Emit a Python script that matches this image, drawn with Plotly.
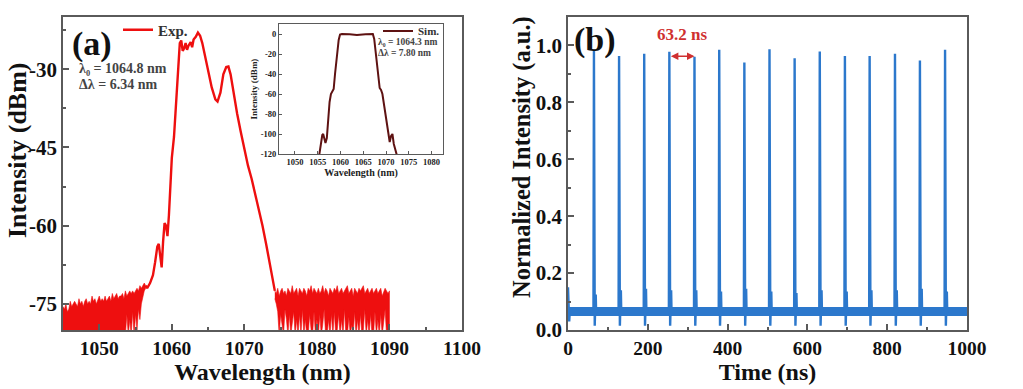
import plotly.graph_objects as go

# ---------------- DATA ----------------
# (a) experimental spectrum
# noise floor: upper (hi) and lower (lo) envelopes of the noise, sampled every 0.2 nm
exp_step = 0.2
exp_left_start = 1045.0
exp_left_hi = [-75.5, -76, -75, -76.5, -76, -74.5, -75.5, -75, -74.5, -75,
               -75.5, -74, -75, -74.5, -75.5, -74.5, -74, -75, -74.5, -75,
               -73.5, -74.5, -74, -75, -74, -73.5, -74.5, -74, -74.5, -73.5,
               -74.5, -74, -73.5, -74.5, -73, -74, -73.5, -73, -74, -73.5,
               -73.5, -73, -74, -72.5, -73.5, -73, -72.5, -73, -72.5, -73,
               -72.5, -72, -72.5, -71.5, -72, -71.5, -71, -71.5]
exp_left_lo = [-81] * 44 + [-77, -81, -78, -81, -76.5, -81, -77, -80, -76, -78, -75, -73.5, -72.5, -72]
exp_right_start = 1074.2
exp_right_hi = [-72.5, -73, -72, -73.5, -72.5, -72, -73, -72.5, -73.5, -72,
                -72.5, -73, -71.5, -73, -72.5, -72, -73.5, -72, -72.5, -73,
                -72, -72.5, -73.5, -72, -72.5, -71.5, -73, -72, -72.5, -73,
                -72, -73, -72.5, -71.5, -73, -72, -72.5, -73.5, -72, -72.5,
                -73, -72, -72.5, -71.5, -73, -72.5, -72, -73, -72.5, -72,
                -71.5, -73, -72.5, -72, -73.5, -72, -72.5, -73, -72, -72.5,
                -72, -71.5, -73, -72.5, -72, -73, -72.5, -72, -73, -72.5,
                -72, -73, -72.5, -72, -73.5, -72.5, -72, -72.5, -73, -72.5]
exp_right_lo = [-74, -75, -76.5, -81, -77, -79, -81, -76, -78, -81,
                -77, -81, -79, -76.5, -81, -78, -81, -77, -81, -76,
                -81, -78, -81, -81, -77, -80, -81, -76.5, -81, -78,
                -81, -77, -81, -79, -76, -81, -81, -78, -81, -77,
                -81, -76.5, -81, -80, -77, -81, -78, -81, -76, -81,
                -81, -77.5, -81, -79, -81, -76.5, -81, -78, -81, -77,
                -81, -80, -76, -81, -78, -81, -77, -81, -81, -76.5,
                -81, -78, -81, -77, -81, -79, -76, -81, -81, -81]
# main emission band
exp_band_wl = [1056.4, 1056.6, 1057.0, 1057.4, 1057.7, 1058.0, 1058.2, 1058.4, 1058.6, 1058.8, 1059.0,
               1059.2, 1059.4, 1059.6, 1059.8, 1060.0, 1060.3, 1060.6, 1060.9, 1061.1, 1061.3, 1061.5,
               1061.7, 1061.9, 1062.1, 1062.3, 1062.6, 1062.8, 1063.0, 1063.3, 1063.6, 1063.9, 1064.2,
               1064.6, 1065.0, 1065.5, 1066.0, 1066.3, 1066.7, 1067.1, 1067.5, 1067.8, 1068.1, 1068.5,
               1069.0, 1069.5, 1070.0, 1070.5, 1071.0, 1071.5, 1072.0, 1072.5, 1073.0, 1073.5, 1073.9,
               1074.2]
exp_band_db = [-71.5, -72, -71, -69.5, -67, -64, -63.5, -66, -68, -63, -59.5, -60, -62, -58, -53, -47,
               -43, -37, -29, -25, -24.5, -26.5, -26, -25, -26.3, -25.5, -24.8, -25.8, -24.3, -23.8,
               -23.0, -23.6, -25, -27.5, -30, -33.5, -35.8, -36.2, -34.5, -31, -29.6, -29.5, -31, -34.5,
               -38.5, -42, -45.5, -48.5, -51, -54, -56.5, -60, -63.5, -67.5, -70.5, -72.5]

# (a) inset: simulated spectrum
sim_wl = [1055.2, 1055.6, 1056.0, 1056.2, 1056.4, 1056.7, 1057.0, 1057.3, 1057.6, 1057.9, 1058.2,
          1058.5, 1058.8, 1059.2, 1059.6, 1059.9, 1060.3, 1062.0, 1063.6, 1065.5, 1067.1, 1067.4,
          1067.8, 1068.2, 1068.6, 1068.9, 1069.2, 1069.6, 1070.1, 1070.5, 1070.8, 1071.1, 1071.4,
          1071.7, 1072.1, 1072.6]
sim_db = [-125, -112, -101, -100, -103, -109, -104, -85, -68, -60, -57, -55, -40, -22, -6, -0.5, 0,
          -0.3, -1, -0.3, 0, -5, -20, -38, -54, -56, -60, -72, -88, -101, -108, -102, -100, -110,
          -118, -125]

# (b) pulse train
pulse_times = [65, 128, 191, 254, 317, 379, 442, 505, 568, 631, 694, 756, 819.5, 882, 945]
pulse_peaks = [0.985, 0.963, 0.971, 0.978, 0.960, 0.985, 0.940, 0.987, 0.955, 0.979, 0.963, 0.963,
               0.971, 0.947, 0.985]
pulse_bumps = [0.125, 0.14, 0.145, 0.14, 0.14, 0.135, 0.145, 0.135, 0.13, 0.14, 0.135, 0.14, 0.14,
               0.145, 0.135]
# shape of one pulse (time offset ns, level) ; 'P' = peak, 'B' = after-bump
pulse_shape = [(-1.2, 0.065), (0, 'P'), (1.0, 0.045), (2.0, 0.015), (3.0, 0.07), (4.5, 'B'),
               (5.5, 0.06), (7.0, 0.075), (8.5, 0.065)]
start_t = [0, 1.5, 3.0, 4.5]
start_v = [0.15, 0.065, 0.03, 0.065]
baseline_t = [0, 1000]
baseline_v = [0.065, 0.065]

# ---------------- BUILD ----------------
SERIF = "Liberation Serif"
RED = "#ee0f0f"
BLUE = "#2c78cc"

def noise_polygon(start, hi, lo):
    xs = [start + exp_step * i for i in range(len(hi))]
    return xs + xs[::-1], list(hi) + list(lo)[::-1]

lx, ly = noise_polygon(exp_left_start, exp_left_hi, exp_left_lo)
rx, ry = noise_polygon(exp_right_start, exp_right_hi, exp_right_lo)

pt_x, pt_y = list(start_t), list(start_v)
for t, p, b in zip(pulse_times, pulse_peaks, pulse_bumps):
    for dt, lv in pulse_shape:
        pt_x.append(t + dt)
        pt_y.append(p if lv == 'P' else (b if lv == 'B' else lv))
pt_x.append(1000); pt_y.append(0.065)

fig = go.Figure()
fig.add_trace(go.Scatter(x=exp_band_wl, y=exp_band_db, mode='lines', name='Exp.',
                         line=dict(color=RED, width=2.4), xaxis='x', yaxis='y', legend='legend'))
fig.add_trace(go.Scatter(x=lx, y=ly, mode='lines', fill='toself', fillcolor=RED, showlegend=False,
                         line=dict(color=RED, width=0.6), xaxis='x', yaxis='y'))
fig.add_trace(go.Scatter(x=rx, y=ry, mode='lines', fill='toself', fillcolor=RED, showlegend=False,
                         line=dict(color=RED, width=0.6), xaxis='x', yaxis='y'))
fig.add_trace(go.Scatter(x=sim_wl, y=sim_db, mode='lines', name='Sim.',
                         line=dict(color='#5e1212', width=2), xaxis='x3', yaxis='y3', legend='legend2'))
fig.add_trace(go.Scatter(x=baseline_t, y=baseline_v, mode='lines', showlegend=False,
                         line=dict(color=BLUE, width=9), xaxis='x2', yaxis='y2'))
fig.add_trace(go.Scatter(x=pt_x, y=pt_y, mode='lines', showlegend=False,
                         line=dict(color=BLUE, width=2.4), xaxis='x2', yaxis='y2'))

W, H = 1023, 389
def px(x): return x / W
def py(y): return 1 - y / H

AX = dict(showline=True, linecolor='#5a5a5a', linewidth=1.5, mirror=True, ticks='inside',
          ticklen=6, tickwidth=1.5, tickcolor='#5a5a5a', showgrid=False, zeroline=False,
          automargin=False,
          tickfont=dict(family=SERIF, size=19.5, color='#111', weight='bold'))
YTICK = dict(family=SERIF, size=21, color='#111', weight='bold')
TF = dict(family=SERIF, size=24, color='#111', weight='bold')
MINOR = dict(ticks='inside', ticklen=3, tickcolor='#5a5a5a')

fig.update_layout(
    width=W, height=H, margin=dict(l=0, r=0, t=0, b=0),
    paper_bgcolor='white', plot_bgcolor='white',
    xaxis=dict(AX, domain=[px(63), px(462)], range=[1045, 1100], anchor='y',
               tickvals=[1050, 1060, 1070, 1080, 1090, 1100],
               minor=dict(MINOR, tickvals=[1055, 1065, 1075, 1085, 1095]),
               title=dict(text='Wavelength (nm)', font=TF, standoff=3)),
    yaxis=dict(AX, domain=[py(330), py(17)], range=[-80, -20], anchor='x', tickfont=YTICK,
               tickvals=[-75, -60, -45, -30], ticktext=['-75', '-60', '-45', '-30'],
               minor=dict(MINOR, tickvals=[-67.5, -52.5, -37.5, -22.5])),
    xaxis2=dict(AX, domain=[px(568), px(967)], range=[0, 1000], anchor='y2',
                tickvals=[0, 200, 400, 600, 800, 1000],
                minor=dict(MINOR, tickvals=[100, 300, 500, 700, 900]),
                title=dict(text='Time (ns)', font=TF, standoff=3)),
    yaxis2=dict(AX, domain=[py(330), py(17)], range=[0, 1.1], anchor='x2', tickfont=YTICK,
                tickvals=[0, 0.2, 0.4, 0.6, 0.8, 1.0], ticktext=['0.0', '0.2', '0.4', '0.6', '0.8', '1.0'],
                minor=dict(MINOR, tickvals=[0.1, 0.3, 0.5, 0.7, 0.9])),
    xaxis3=dict(AX, domain=[px(279), px(443)], range=[1046.5, 1082.5], anchor='y3',
                linewidth=1, ticklen=3, tickwidth=1,
                tickvals=[1050, 1055, 1060, 1065, 1070, 1075, 1080],
                tickfont=dict(family=SERIF, size=8.5, color='#222', weight='bold'),
                title=dict(text='Wavelength (nm)', font=dict(family=SERIF, size=10, color='#222', weight='bold'), standoff=1)),
    yaxis3=dict(AX, domain=[py(154), py(24)], range=[-120, 10], anchor='x3',
                linewidth=1, ticklen=3, tickwidth=1,
                tickvals=[0, -20, -40, -60, -80, -100, -120],
                ticktext=['0', '-20', '-40', '-60', '-80', '-100', '-120'],
                tickfont=dict(family=SERIF, size=8.5, color='#222', weight='bold'),
                title=dict(text='Intensity (dBm)', font=dict(family=SERIF, size=9, color='#222', weight='bold'), standoff=1)),
    legend=dict(x=px(118), y=py(30), xanchor='left', yanchor='middle', bgcolor='rgba(0,0,0,0)',
                font=dict(family=SERIF, size=15, color='#333', weight='bold'), itemwidth=30),
    legend2=dict(x=px(378), y=py(31), xanchor='left', yanchor='middle', bgcolor='rgba(0,0,0,0)',
                 font=dict(family=SERIF, size=11, color='#333', weight='bold'), itemwidth=30),
    showlegend=True,
)

ann = []
# y-axis titles (placed as in the reference, slightly above the axis centre)
ann.append(dict(text='Intensity (dBm)', x=px(17), y=py(150), xref='paper', yref='paper', textangle=-90,
                xanchor='center', yanchor='middle', showarrow=False,
                font=dict(family=SERIF, size=26, color='#111', weight='bold')))
ann.append(dict(text='Normalized Intensity (a.u.)', x=px(522), y=py(157), xref='paper', yref='paper',
                textangle=-90, xanchor='center', yanchor='middle', showarrow=False,
                font=dict(family=SERIF, size=24.5, color='#111', weight='bold')))
ann.append(dict(text='(a)', x=px(70), y=py(44), xref='paper', yref='paper', xanchor='left', yanchor='middle',
                showarrow=False, font=dict(family=SERIF, size=34, color='#111', weight='bold')))
ann.append(dict(text='(b)', x=px(572), y=py(40), xref='paper', yref='paper', xanchor='left', yanchor='middle',
                showarrow=False, font=dict(family=SERIF, size=34, color='#111', weight='bold')))
ann.append(dict(text='λ₀ = 1064.8 nm', x=px(77), y=py(69), xref='paper', yref='paper',
                xanchor='left', yanchor='middle', showarrow=False,
                font=dict(family=SERIF, size=14, color='#444', weight='bold')))
ann.append(dict(text='Δλ = 6.34 nm', x=px(77), y=py(84), xref='paper', yref='paper',
                xanchor='left', yanchor='middle', showarrow=False,
                font=dict(family=SERIF, size=14, color='#444', weight='bold')))
ann.append(dict(text='λ₀ = 1064.3 nm', x=px(376), y=py(42), xref='paper', yref='paper',
                xanchor='left', yanchor='middle', showarrow=False,
                font=dict(family=SERIF, size=9.5, color='#444', weight='bold')))
ann.append(dict(text='Δλ = 7.80 nm', x=px(376), y=py(53), xref='paper', yref='paper',
                xanchor='left', yanchor='middle', showarrow=False,
                font=dict(family=SERIF, size=9.5, color='#444', weight='bold')))
ann.append(dict(text='63.2 ns', x=286, y=1.04, xref='x2', yref='y2', showarrow=False,
                font=dict(family=SERIF, size=17, color='#d03030', weight='bold')))
ann.append(dict(text='', x=317, y=0.962, ax=254, ay=0.962, xref='x2', yref='y2', axref='x2', ayref='y2',
                showarrow=True, arrowhead=2, arrowside='end+start', arrowsize=1, arrowwidth=1.5,
                arrowcolor='#d03030'))
fig.update_layout(annotations=ann)

fig.write_html("out.html", config={'displayModeBar': False},
               post_script="document.body.style.margin='0px';document.body.style.overflow='hidden';")
